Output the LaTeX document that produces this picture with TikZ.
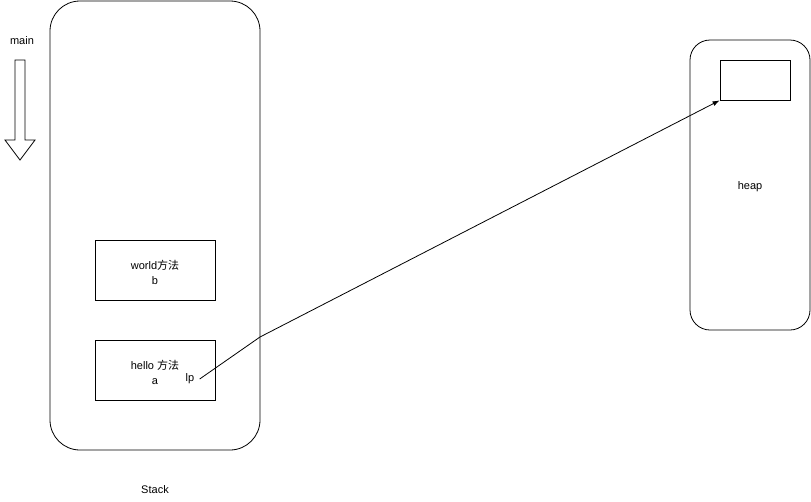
\documentclass[tikz,border=0pt]{standalone}
\usepackage{fontspec}
\setmainfont{Liberation Sans}
\newfontfamily\cjk{Noto Sans CJK SC}
\usetikzlibrary{arrows.meta}
\begin{document}
\begin{tikzpicture}[x=1pt,y=-1pt,line width=0.8pt,
    every node/.style={font=\fontsize{11}{15}\selectfont,inner sep=0pt},
    area/.style={draw,rounded corners=#1},
    methodbox/.style={draw,minimum width=120pt,minimum height=60pt}]
	\useasboundingbox (0,0) rectangle (811,501);
	% stack side
	\node[area=30pt,minimum width=210pt,minimum height=449pt] (stack) at (155,225.5) {};
	\node (stacklabel) at (155,490) {Stack};
	\node (mainlabel) at (22,41) {main};
	\draw (15,60)--(25,60)--(25,140)--(35,140)--(20,160)--(5,140)--(15,140)--cycle;
	\node[methodbox] (world) at (155,270) {};
	\node[align=center] (worldtext) at (155,272) {world{\cjk 方法}\\b};
	\node[methodbox] (hello) at (155,370) {};
	\node[align=center] (hellotext) at (155,372) {hello {\cjk 方法}\\a};
	\node (lp) at (190,379) {lp};
	% heap side
	\node[area=20pt,minimum width=120pt,minimum height=290pt] (heap) at (750,185) {};
	\node (heaplabel) at (750,187) {heap};
	\node[draw,minimum width=70pt,minimum height=40pt] (slot) at (755,80) {};
	\coordinate (bend) at (260,337);
	\draw[-{Latex[length=7pt,width=5pt]}] ([xshift=5pt]lp.east)--(bend)--(slot.south west);
\end{tikzpicture}
\end{document}
